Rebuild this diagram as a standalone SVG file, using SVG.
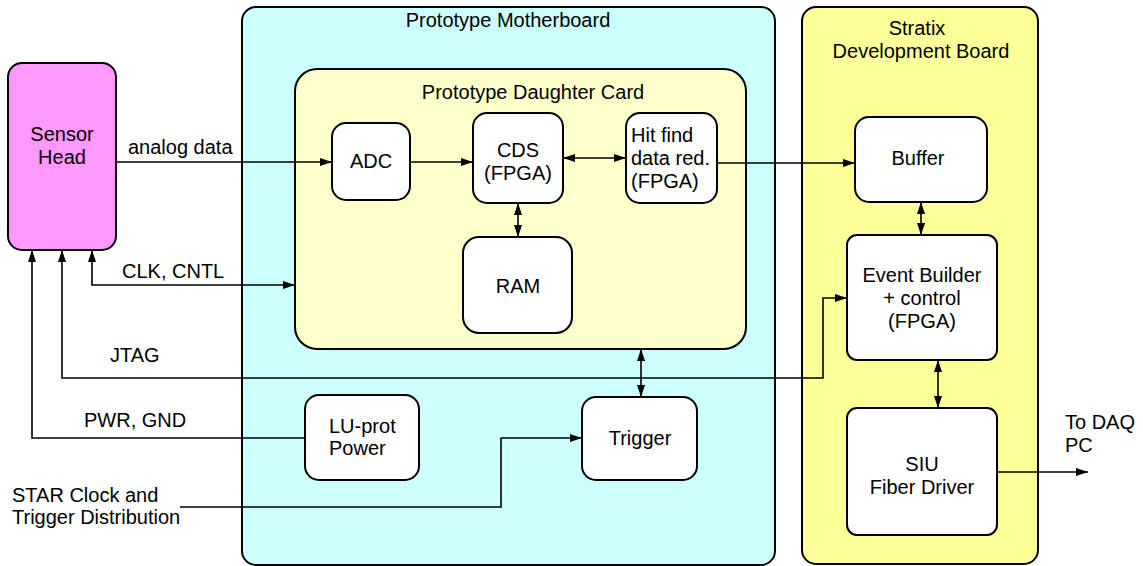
<svg xmlns="http://www.w3.org/2000/svg" width="1143" height="566" viewBox="0 0 1143 566">
  <style>
    .box { stroke: #000; stroke-width: 2; }
    .blk { fill: #fff; stroke: #000; stroke-width: 2; }
    .ln { fill: none; stroke: #000; stroke-width: 1.6; }
    text { font-family: "Liberation Sans", Arial, sans-serif; font-size: 20px; fill: #000; }
    .c { text-anchor: middle; }
  </style>
  <defs>
    <marker id="ah" viewBox="0 0 12 8" refX="12" refY="4" markerWidth="12" markerHeight="8" markerUnits="userSpaceOnUse" orient="auto-start-reverse">
      <path d="M0,0 L12,4 L0,8 Z" fill="#000"/>
    </marker>
  </defs>

  <rect width="1143" height="566" fill="#fff"/>

  <!-- Containers -->
  <g id="motherboard">
    <rect class="box" x="242" y="7" width="533" height="558" rx="14" fill="#ccffff"/>
    <text class="c" x="508" y="27">Prototype Motherboard</text>
  </g>
  <g id="stratix">
    <rect class="box" x="802" y="7" width="236" height="557" rx="14" fill="#ffff99"/>
    <text class="c" x="917" y="35">Stratix</text>
    <text class="c" x="921" y="58">Development Board</text>
  </g>
  <g id="daughter-card">
    <rect class="box" x="295" y="69" width="451" height="280" rx="22" fill="#ffffcc"/>
    <text class="c" x="533" y="99">Prototype Daughter Card</text>
  </g>

  <!-- Connectors -->
  <g id="connectors">
    <path class="ln" d="M116,162 H332" marker-end="url(#ah)"/>
    <path class="ln" d="M410,162 H473" marker-end="url(#ah)"/>
    <path class="ln" d="M563,158 H626" marker-start="url(#ah)" marker-end="url(#ah)"/>
    <path class="ln" d="M518,203 V237" marker-start="url(#ah)" marker-end="url(#ah)"/>
    <path class="ln" d="M717,163 H855" marker-end="url(#ah)"/>
    <path class="ln" d="M921,202 V235" marker-start="url(#ah)" marker-end="url(#ah)"/>
    <path class="ln" d="M938,360 V408" marker-start="url(#ah)" marker-end="url(#ah)"/>
    <path class="ln" d="M997,472 H1088" marker-end="url(#ah)"/>
    <path class="ln" d="M641,349 V397" marker-start="url(#ah)" marker-end="url(#ah)"/>
    <path class="ln" d="M92,250 V285 H295" marker-start="url(#ah)" marker-end="url(#ah)"/>
    <path class="ln" d="M62,250 V378 H823 V298 H847" marker-start="url(#ah)" marker-end="url(#ah)"/>
    <path class="ln" d="M32,250 V438 H305" marker-start="url(#ah)"/>
    <path class="ln" d="M180,507 H501 V438 H582" marker-end="url(#ah)"/>
  </g>

  <!-- Connector labels -->
  <g id="labels">
    <text x="128" y="154">analog data</text>
    <text x="122" y="278">CLK, CNTL</text>
    <text x="110" y="362">JTAG</text>
    <text x="84" y="427">PWR, GND</text>
    <text x="12" y="502">STAR Clock and</text>
    <text x="12" y="524">Trigger Distribution</text>
    <text x="1065" y="429">To DAQ</text>
    <text x="1065" y="452">PC</text>
  </g>

  <!-- Blocks -->
  <g id="sensor-head">
    <rect class="box" x="8" y="63" width="108" height="187" rx="14" fill="#ff99ff"/>
    <text class="c" x="62" y="141">Sensor</text>
    <text class="c" x="62" y="164">Head</text>
  </g>
  <g id="adc">
    <rect class="blk" x="332" y="123" width="78" height="77" rx="14"/>
    <text class="c" x="371" y="168">ADC</text>
  </g>
  <g id="cds">
    <rect class="blk" x="473" y="113" width="90" height="90" rx="14"/>
    <text class="c" x="518" y="157">CDS</text>
    <text class="c" x="518" y="180">(FPGA)</text>
  </g>
  <g id="hit-find">
    <rect class="blk" x="626" y="113" width="91" height="90" rx="14"/>
    <text x="631" y="142">Hit find</text>
    <text x="631" y="165">data red.</text>
    <text x="631" y="188">(FPGA)</text>
  </g>
  <g id="ram">
    <rect class="blk" x="463" y="237" width="109" height="96" rx="16"/>
    <text class="c" x="518" y="293">RAM</text>
  </g>
  <g id="lu-prot-power">
    <rect class="blk" x="305" y="395" width="114" height="85" rx="14"/>
    <text x="329" y="433">LU-prot</text>
    <text x="329" y="455">Power</text>
  </g>
  <g id="trigger">
    <rect class="blk" x="582" y="397" width="115" height="83" rx="14"/>
    <text class="c" x="640" y="445">Trigger</text>
  </g>
  <g id="buffer">
    <rect class="blk" x="855" y="117" width="132" height="85" rx="14"/>
    <text class="c" x="918" y="165">Buffer</text>
  </g>
  <g id="event-builder">
    <rect class="blk" x="847" y="235" width="150" height="125" rx="10"/>
    <text class="c" x="922" y="282">Event Builder</text>
    <text class="c" x="922" y="305">+ control</text>
    <text class="c" x="922" y="328">(FPGA)</text>
  </g>
  <g id="siu">
    <rect class="blk" x="847" y="408" width="150" height="127" rx="10"/>
    <text class="c" x="922" y="471">SIU</text>
    <text class="c" x="922" y="494">Fiber Driver</text>
  </g>
</svg>
